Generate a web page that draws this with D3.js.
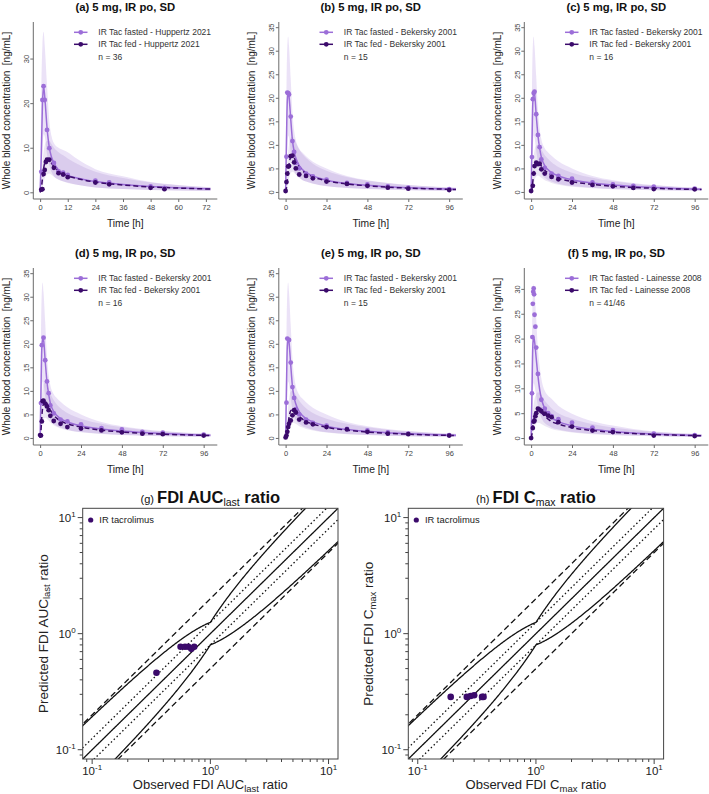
<!DOCTYPE html>
<html><head><meta charset="utf-8">
<script src="https://cdn.jsdelivr.net/npm/d3@7"></script>
<style>body{margin:0;background:#fff} svg{display:block;font-family:"Liberation Sans",Arial,sans-serif}</style>
</head><body><svg id="c" width="709" height="794"></svg>
<script>
// ---------------- DATA ----------------
const panelTitles = ["(a) 5 mg, IR po, SD","(b) 5 mg, IR po, SD","(c) 5 mg, IR po, SD","(d) 5 mg, IR po, SD","(e) 5 mg, IR po, SD","(f) 5 mg, IR po, SD"];
const fastedLegend = ["IR Tac fasted - Huppertz 2021","IR Tac fasted - Bekersky 2001","IR Tac fasted - Bekersky 2001","IR Tac fasted - Bekersky 2001","IR Tac fasted - Bekersky 2001","IR Tac fasted - Lainesse 2008"];
const fedLegend = ["IR Tac fed - Huppertz 2021","IR Tac fed - Bekersky 2001","IR Tac fed - Bekersky 2001","IR Tac fed - Bekersky 2001","IR Tac fed - Bekersky 2001","IR Tac fed - Lainesse 2008"];
const nLabels = ["n = 36","n = 15","n = 16","n = 16","n = 15","n = 41/46"];
const xTicksA = [0,12,24,36,48,60,72];
const xTicks = [0,24,48,72,96];
const yTicksA = [0,10,20,30];
const yTicks = [0,5,10,15,20,25,30,35];
const yTicksF = [0,5,10,15,20,25,30];
const xDomainA = [-2.96,76.96];
const xDomain = [-4,104];
const yDomainA = [-1.5,38.2];
const yDomain = [-1.5,36.1];
const yDomainF = [-1.4,34.2];

const simTimeA = [0,0.5,1,1.5,2,3,4,5,6,8,10,12,16,24,36,48,60,74];
const simTime  = [0,0.5,1,1.5,2,3,4,5,6,8,10,12,16,24,36,48,60,72,84,100];

const simFastedA   = [0,8,19.5,23.8,21.5,14.5,10.0,7.8,6.6,5.0,4.3,3.8,3.2,2.4,1.75,1.3,1.0,0.75];
const simFastedLoA = [0,2,9,13,12.5,8.5,6.0,4.5,3.6,2.9,2.5,2.2,1.7,1.1,0.75,0.5,0.38,0.28];
const simFastedHiA = [0,22,33,36,33,24,16,12.5,11.0,10.0,9.5,9.0,7.5,5.2,3.6,2.3,1.65,1.15];
const simFedA      = [0,0.8,3.0,5.2,6.6,7.4,7.3,6.5,5.8,4.8,4.2,3.7,3.1,2.3,1.65,1.2,0.95,0.72];
const simFedLoA    = [0,0.2,1.0,2.2,3.2,4.0,4.2,3.9,3.5,2.8,2.4,2.1,1.7,1.1,0.75,0.52,0.4,0.3];
const simFedHiA    = [0,2.5,6.5,9.0,10.5,11.5,11.5,10.8,10.0,9.0,8.3,7.6,6.4,4.6,3.2,2.2,1.6,1.12];

const simFastedB   = [0,11,19.5,21.3,20.3,15.5,11.0,8.6,7.2,5.6,4.7,4.1,3.4,2.5,1.8,1.4,1.1,0.9,0.72,0.55];
const simFastedLoB = [0,3,9,12,11.5,8.5,6.0,4.6,3.8,3.0,2.5,2.2,1.75,1.2,0.85,0.62,0.48,0.38,0.3,0.22];
const simFastedHiB = [0,22,31,33,31,24,17,13,11,9.2,8.3,7.6,6.4,5.0,3.4,2.5,1.9,1.45,1.15,0.85];
const simFedB      = [0,0.8,2.6,4.4,5.8,7.4,7.6,7.2,6.5,5.3,4.5,3.9,3.2,2.4,1.7,1.3,1.0,0.82,0.68,0.52];
const simFedLoB    = [0,0.2,1.0,2.0,2.9,4.0,4.3,4.1,3.7,3.0,2.5,2.2,1.8,1.25,0.85,0.63,0.5,0.4,0.32,0.25];
const simFedHiB    = [0,2.5,6.0,8.5,10.0,11.5,11.7,11.2,10.5,9.0,8.0,7.2,6.0,4.5,3.2,2.4,1.9,1.5,1.2,0.95];

const simFastedC   = [0,10,19.0,21.0,20.8,16.3,12.0,9.3,7.4,5.6,4.7,4.1,3.4,2.6,1.9,1.45,1.15,0.92,0.75,0.56];
const simFastedLoC = [0,3,9,12,11.5,8.8,6.4,4.9,3.9,3.0,2.5,2.2,1.75,1.25,0.88,0.64,0.5,0.4,0.31,0.23];
const simFastedHiC = [0,22,31,33,31,24.5,17.5,13.5,11.2,9.3,8.4,7.7,6.5,5.0,3.4,2.5,1.9,1.45,1.15,0.85];
const simFedC      = [0,0.6,2.2,3.8,5.0,6.1,6.3,6.0,5.5,4.6,4.0,3.5,2.9,2.2,1.6,1.2,0.95,0.78,0.64,0.5];
const simFedLoC    = [0,0.15,0.8,1.7,2.5,3.3,3.5,3.3,3.0,2.5,2.2,1.9,1.55,1.1,0.8,0.58,0.45,0.37,0.3,0.23];
const simFedHiC    = [0,2.0,5.3,7.5,8.8,9.8,10.0,9.7,9.0,7.8,7.0,6.3,5.3,4.1,3.0,2.25,1.75,1.4,1.12,0.88];

const simFastedD   = [0,10,19.0,21.0,20.8,16.3,12.0,9.3,7.4,5.6,4.7,4.1,3.4,2.6,1.9,1.45,1.15,0.92,0.75,0.56];
const simFastedLoD = [0,3,9,12,11.5,8.8,6.4,4.9,3.9,3.0,2.5,2.2,1.75,1.25,0.88,0.64,0.5,0.4,0.31,0.23];
const simFastedHiD = [0,22,31,33,31,24.5,17.5,13.5,11.2,9.3,8.4,7.7,6.5,5.0,3.4,2.5,1.9,1.45,1.15,0.85];
const simFedD      = [0,1.5,4.5,6.5,7.4,7.8,7.3,6.6,5.9,4.8,4.1,3.6,3.0,2.3,1.65,1.25,0.97,0.8,0.66,0.5];
const simFedLoD    = [0,0.5,2.0,3.4,4.0,4.3,4.1,3.7,3.3,2.7,2.3,2.0,1.65,1.2,0.82,0.6,0.46,0.37,0.3,0.23];
const simFedHiD    = [0,4.0,8.5,10.5,11.5,11.8,11.2,10.3,9.4,8.0,7.0,6.3,5.3,4.1,3.0,2.25,1.75,1.4,1.12,0.88];

const simFastedE   = [0,11,19.5,21.3,20.3,15.5,11.0,8.6,7.2,5.6,4.7,4.1,3.4,2.5,1.8,1.4,1.1,0.9,0.72,0.55];
const simFastedLoE = [0,3,9,12,11.5,8.5,6.0,4.6,3.8,3.0,2.5,2.2,1.75,1.2,0.85,0.62,0.48,0.38,0.3,0.22];
const simFastedHiE = [0,22,31,33,31,24,17,13,11,9.2,8.3,7.6,6.4,5.0,3.4,2.5,1.9,1.45,1.15,0.85];
const simFedE      = [0,0.5,1.6,3.0,4.3,5.8,6.0,5.8,5.4,4.6,4.0,3.5,2.95,2.25,1.65,1.25,0.97,0.8,0.65,0.5];
const simFedLoE    = [0,0.1,0.6,1.3,2.0,3.0,3.3,3.2,3.0,2.5,2.2,1.9,1.6,1.15,0.8,0.6,0.46,0.37,0.3,0.23];
const simFedHiE    = [0,1.6,4.0,6.5,8.2,9.8,10.0,9.7,9.1,7.9,7.0,6.3,5.3,4.1,3.0,2.25,1.75,1.4,1.12,0.88];

const simFastedF   = [0,9,18.5,20.3,19.5,16.0,12.5,9.8,8.0,5.9,4.8,4.1,3.3,2.45,1.75,1.3,1.0,0.82,0.66,0.5];
const simFastedLoF = [0,2.5,8.5,11,10.5,8.5,6.5,5.0,4.1,3.0,2.5,2.1,1.7,1.2,0.85,0.64,0.5,0.4,0.32,0.25];
const simFastedHiF = [0,20,29,31,29.5,24,18,14.5,12,9.5,8.5,7.9,6.5,4.9,3.4,2.5,1.8,1.3,1.0,0.7];
const simFedF      = [0,0.8,2.3,3.5,4.3,5.2,5.5,5.4,5.1,4.4,3.8,3.3,2.8,2.1,1.5,1.15,0.9,0.72,0.6,0.45];
const simFedLoF    = [0,0.2,0.9,1.6,2.2,2.9,3.1,3.0,2.8,2.4,2.1,1.8,1.5,1.1,0.75,0.56,0.44,0.35,0.28,0.21];
const simFedHiF    = [0,2.2,5.0,6.8,7.8,8.8,9.2,9.0,8.6,7.5,6.7,6.0,5.0,3.9,2.8,2.1,1.6,1.25,1.0,0.78];

// observed [time h, concentration ng/mL]
const obsFastedA = [[0.5,4.6],[1,20.7],[1.5,23.8],[2,20.7],[3,14.0],[4,9.9],[6,6.6],[8,4.7],[10,4.4],[12,3.9],[24,2.6],[30,2.2],[48,1.3],[54,1.0]];
const obsFedA    = [[0.5,0.6],[1,0.7],[1.5,4.1],[2,5.0],[2.5,6.8],[3,7.3],[4,7.3],[6,5.5],[8,4.3],[10,4.0],[12,3.4],[24,2.2],[30,1.8],[48,1.0],[54,0.7]];
const obsFastedB = [[0.5,7.5],[1,21.1],[1.5,21.0],[2,20.7],[3,16.0],[4,10.8],[5,8.5],[6,6.2],[8,5.0],[12,3.9],[16,3.3],[24,2.6],[36,1.9],[48,1.6],[60,1.2],[72,0.9],[96,0.6]];
const obsFedB    = [[0,0.2],[0.5,2.1],[1,3.9],[1.5,5.4],[2,5.5],[3,7.6],[4,7.7],[5,6.3],[6,5.0],[8,3.7],[12,3.4],[16,2.9],[24,2.2],[36,1.7],[48,1.3],[60,0.9],[72,0.7],[96,0.4]];
const obsFastedC = [[0.5,7.4],[1,19.7],[1.5,21.0],[2,21.3],[3,16.5],[4,12.1],[5,9.5],[6,6.9],[8,5.1],[12,3.9],[16,3.4],[24,2.8],[36,2.0],[48,1.6],[60,1.3],[72,1.1],[96,0.7]];
const obsFedC    = [[0,0.2],[1,1.3],[1.5,3.9],[2,5.5],[3,6.2],[4,5.9],[5,6.0],[6,4.8],[8,3.9],[12,3.2],[16,2.7],[24,2.0],[36,1.5],[48,1.2],[60,0.85],[72,0.6],[96,0.55]];
const obsFastedD = [[0.5,7.4],[1,19.7],[2,21.3],[3,16.5],[4,12.0],[5,9.5],[6,6.9],[8,5.2],[12,3.9],[16,3.5],[24,2.9],[36,2.1],[48,1.8],[60,1.3],[72,1.1],[96,0.7]];
const obsFedD    = [[0,0.6],[0.5,0.5],[1,3.5],[1.5,7.8],[2,7.9],[3,7.3],[4,6.7],[5,5.9],[6,4.7],[8,3.6],[12,3.0],[16,2.3],[24,2.0],[36,1.6],[48,1.2],[60,0.9],[72,0.8],[96,0.5]];
const obsFastedE = [[0.5,7.5],[1,21.1],[2,20.8],[3,16.0],[4,10.8],[5,8.5],[6,6.1],[8,5.0],[12,3.9],[16,3.2],[24,2.6],[36,1.9],[48,1.6],[60,1.2],[72,0.9],[96,0.6]];
const obsFedE    = [[0,0.1],[0.5,0.5],[1,1.3],[1.5,2.3],[2,3.0],[3,3.7],[4,4.8],[5,5.9],[6,5.4],[8,3.9],[12,3.3],[16,2.9],[24,2.3],[36,1.8],[48,1.3],[60,0.9],[72,0.8],[96,0.5]];
const obsFastedF = [[0.5,9.0],[0.75,20.3],[1,27.0],[1.25,29.4],[1.5,30.1],[1.75,28.9],[2,24.8],[2.5,22.4],[3,18.2],[4,12.9],[6,7.7],[8,5.9],[10,5.0],[12,4.4],[16,3.8],[24,3.1],[36,2.1],[48,1.6],[72,0.9],[96,0.6]];
const obsFedF    = [[0,0.0],[1,2.0],[1.5,3.3],[2,3.5],[2.5,4.4],[3,5.0],[4,5.9],[5,5.7],[6,5.4],[8,4.9],[10,4.5],[12,4.2],[16,3.2],[24,2.3],[36,1.5],[48,1.2],[72,0.5],[96,0.4]];

// FDI ratios (fed/fasted)
const fdiAucObserved  = [0.35,0.56,0.61,0.65,0.69,0.73];
const fdiAucPredicted = [0.46,0.77,0.77,0.77,0.74,0.77];
const fdiCmaxObserved  = [0.19,0.26,0.28,0.30,0.35,0.36];
const fdiCmaxPredicted = [0.285,0.285,0.29,0.295,0.285,0.285];
const guestDelta = 1.25;
const logTickLabels = ["-1","0","1"];

// ---------------- STYLE ----------------
const colFasted = "#9C6ED8";
const colFed = "#3B0A6B";
const svg = d3.select("#c");
const font = '"Liberation Sans",Arial,sans-serif';

const panels = [
  {t:simTimeA, fm:simFastedA, fl:simFastedLoA, fh:simFastedHiA, dm:simFedA, dl:simFedLoA, dh:simFedHiA, of:obsFastedA, od:obsFedA, xd:xDomainA, yd:yDomainA, xt:xTicksA, yt:yTicksA},
  {t:simTime, fm:simFastedB, fl:simFastedLoB, fh:simFastedHiB, dm:simFedB, dl:simFedLoB, dh:simFedHiB, of:obsFastedB, od:obsFedB, xd:xDomain, yd:yDomain, xt:xTicks, yt:yTicks},
  {t:simTime, fm:simFastedC, fl:simFastedLoC, fh:simFastedHiC, dm:simFedC, dl:simFedLoC, dh:simFedHiC, of:obsFastedC, od:obsFedC, xd:xDomain, yd:yDomain, xt:xTicks, yt:yTicks},
  {t:simTime, fm:simFastedD, fl:simFastedLoD, fh:simFastedHiD, dm:simFedD, dl:simFedLoD, dh:simFedHiD, of:obsFastedD, od:obsFedD, xd:xDomain, yd:yDomain, xt:xTicks, yt:yTicks},
  {t:simTime, fm:simFastedE, fl:simFastedLoE, fh:simFastedHiE, dm:simFedE, dl:simFedLoE, dh:simFedHiE, of:obsFastedE, od:obsFedE, xd:xDomain, yd:yDomain, xt:xTicks, yt:yTicks},
  {t:simTime, fm:simFastedF, fl:simFastedLoF, fh:simFastedHiF, dm:simFedF, dl:simFedLoF, dh:simFedHiF, of:obsFastedF, od:obsFedF, xd:xDomain, yd:yDomainF, xt:xTicks, yt:yTicksF}
];

panels.forEach((p,i)=>{
  const col=i%3, row=Math.floor(i/3);
  const x0=33.3+245.5*col, x1=x0+184, yTop=22+246*row, yBot=199+246*row;
  const x=d3.scaleLinear().domain(p.xd).range([x0,x1]);
  const y=d3.scaleLinear().domain(p.yd).range([yBot,yTop]);
  const g=svg.append("g");
  const cid="clip"+i;
  g.append("clipPath").attr("id",cid).append("rect").attr("x",x0).attr("y",yTop).attr("width",x1-x0).attr("height",yBot-yTop);
  const pg=g.append("g").attr("clip-path",`url(#${cid})`);
  const idx=d3.range(p.t.length);
  const area=(lo,hi)=>d3.area().x(k=>x(p.t[k])).y0(k=>y(lo[k])).y1(k=>y(hi[k])).curve(d3.curveMonotoneX);
  const line=(m)=>d3.line().x(k=>x(p.t[k])).y(k=>y(m[k])).curve(d3.curveMonotoneX);
  pg.append("path").attr("d",area(p.fl,p.fh)(idx)).attr("fill",colFasted).attr("fill-opacity",0.2);
  pg.append("path").attr("d",area(p.dl,p.dh)(idx)).attr("fill","#6A3FA8").attr("fill-opacity",0.13);
  pg.append("path").attr("d",line(p.fm)(idx)).attr("fill","none").attr("stroke",colFasted).attr("stroke-width",1.5);
  pg.append("path").attr("d",line(p.dm)(idx)).attr("fill","none").attr("stroke",colFed).attr("stroke-width",1.5).attr("stroke-dasharray","5,3");
  pg.selectAll(".of").data(p.of).join("circle").attr("cx",d=>x(d[0])).attr("cy",d=>y(d[1])).attr("r",2.4).attr("fill",colFasted);
  pg.selectAll(".od").data(p.od).join("circle").attr("cx",d=>x(d[0])).attr("cy",d=>y(d[1])).attr("r",2.4).attr("fill",colFed);

  // axes
  const ax=g.append("g").attr("transform",`translate(0,${yBot})`)
    .call(d3.axisBottom(x).tickValues(p.xt).tickSize(3).tickSizeOuter(0).tickPadding(2.5));
  const ay=g.append("g").attr("transform",`translate(${x0},0)`)
    .call(d3.axisLeft(y).tickValues(p.yt).tickSize(3).tickSizeOuter(0));
  [ax,ay].forEach(a=>{a.select(".domain").attr("stroke","#6b6b6b");
    a.selectAll(".tick line").attr("stroke","#6b6b6b");
    a.selectAll("text").attr("fill","#444").attr("font-size",7.5).attr("font-family",font);});
  ax.select(".domain").attr("d",`M${x0},0H${x1}`);
  ay.select(".domain").attr("d",`M0,${yTop}V${yBot}`);
  ay.selectAll(".tick text").attr("transform","rotate(-90)").attr("x",0).attr("y",-4.5).attr("dy",0).attr("text-anchor","middle");

  // labels
  g.append("text").attr("x",(x0+x1)/2).attr("y",11+246*row).attr("text-anchor","middle")
    .attr("font-weight","bold").attr("font-size",11.3).attr("fill","#111").text(panelTitles[i]);
  g.append("text").attr("x",(x0+x1)/2).attr("y",226.5+246*row).attr("text-anchor","middle")
    .attr("font-size",10.3).attr("fill","#222").text("Time [h]");
  g.append("text").attr("transform",`translate(${x0-27},${(yTop+yBot)/2}) rotate(-90)`).attr("text-anchor","middle")
    .attr("dy","0.35em").attr("font-size",10).attr("fill","#222").style("white-space","pre").text("Whole blood concentration  [ng/mL]");

  // legend
  const lx=x0+40.7, tx=x0+65;
  [[fastedLegend[i],colFasted,yTop+10.3],[fedLegend[i],colFed,yTop+22.3]].forEach(([lab,c,yy])=>{
    g.append("line").attr("x1",lx).attr("x2",lx+13.5).attr("y1",yy).attr("y2",yy).attr("stroke",c).attr("stroke-width",1.5);
    g.append("circle").attr("cx",lx+6.75).attr("cy",yy).attr("r",2.4).attr("fill",c);
    g.append("text").attr("x",tx).attr("y",yy+3).attr("font-size",8.5).attr("fill","#333").text(lab);
  });
  g.append("text").attr("x",tx).attr("y",yTop+37.5).attr("font-size",8.5).attr("fill","#333").text(nLabels[i]);
});

// ---------------- FDI panels ----------------
const fdiPanels = [
  {left:82.7, obs:fdiAucObserved, pred:fdiAucPredicted, tag:"(g)", main:"FDI AUC", sub:"last"},
  {left:408.3, obs:fdiCmaxObserved, pred:fdiCmaxPredicted, tag:"(h)", main:"FDI C", sub:"max"}
];
const ratioGrid = d3.range(-1.3,1.31,0.005).map(v=>Math.pow(10,v));
const guest = r => { const R = r>=1 ? r : 1/r; return (guestDelta + 2*(R-1))/R; };

fdiPanels.forEach((p,i)=>{
  const left=p.left, right=left+255.3, top=508.3, bottom=759;
  const dom=[Math.pow(10,-1.08),Math.pow(10,1.08)];
  const x=d3.scaleLog().domain(dom).range([left,right]);
  const y=d3.scaleLog().domain(dom).range([bottom,top]);
  const g=svg.append("g");
  const cid="fclip"+i;
  g.append("clipPath").attr("id",cid).append("rect").attr("x",left).attr("y",top).attr("width",right-left).attr("height",bottom-top);
  const pg=g.append("g").attr("clip-path",`url(#${cid})`);
  const ln=f=>d3.line().x(d=>x(d)).y(d=>y(f(d)))(ratioGrid);
  const styles=[
    [d=>d,"none"],[d=>d*1.25,"1.5,2.5"],[d=>d/1.25,"1.5,2.5"],
    [d=>d*2,"6,3.5"],[d=>d/2,"6,3.5"],
    [d=>d*guest(d),"none"],[d=>d/guest(d),"none"]
  ];
  styles.forEach(([f,da])=>pg.append("path").attr("d",ln(f)).attr("fill","none").attr("stroke","#111").attr("stroke-width",1.3).attr("stroke-dasharray",da));
  pg.selectAll(".pt").data(d3.range(p.obs.length)).join("circle")
    .attr("cx",k=>x(p.obs[k])).attr("cy",k=>y(p.pred[k])).attr("r",3.3).attr("fill",colFed);
  g.append("rect").attr("x",left).attr("y",top).attr("width",right-left).attr("height",bottom-top)
    .attr("fill","none").attr("stroke","#444").attr("stroke-width",1);

  const ticks=x.ticks().filter(v=>v>=dom[0]&&v<=dom[1]);
  const major=[0.1,1,10];
  ticks.forEach(v=>{
    const isM=major.some(m=>Math.abs(m-v)<1e-9);
    const L=isM?5:3;
    g.append("line").attr("x1",x(v)).attr("x2",x(v)).attr("y1",bottom).attr("y2",bottom+L).attr("stroke","#444");
    g.append("line").attr("x1",left).attr("x2",left-L).attr("y1",y(v)).attr("y2",y(v)).attr("stroke","#444");
  });
  major.forEach((v,k)=>{
    const tx=g.append("text").attr("x",x(v)).attr("y",bottom+15.5).attr("text-anchor","middle").attr("font-size",11.5).attr("fill","#222");
    tx.append("tspan").text("10");
    tx.append("tspan").attr("dy",-4.5).attr("font-size",8).text(logTickLabels[k]);
    const ty=g.append("text").attr("x",left-7).attr("y",y(v)+4).attr("text-anchor","end").attr("font-size",11.5).attr("fill","#222");
    ty.append("tspan").text("10");
    ty.append("tspan").attr("dy",-4.5).attr("font-size",8).text(logTickLabels[k]);
  });

  // axis titles
  const xt=g.append("text").attr("x",(left+right)/2).attr("y",789).attr("text-anchor","middle").attr("font-size",13).attr("fill","#222");
  xt.append("tspan").text("Observed "+p.main);
  xt.append("tspan").attr("dy",2.5).attr("font-size",9.5).text(p.sub);
  xt.append("tspan").attr("dy",-2.5).text(" ratio");
  const yt=g.append("text").attr("transform",`translate(${left-35},${(top+bottom)/2}) rotate(-90)`).attr("text-anchor","middle").attr("font-size",13.5).attr("fill","#222");
  yt.append("tspan").text("Predicted "+p.main);
  yt.append("tspan").attr("dy",2.5).attr("font-size",9.5).text(p.sub);
  yt.append("tspan").attr("dy",-2.5).text(" ratio");

  // title
  const tt=g.append("text").attr("x",(left+right)/2).attr("y",503).attr("text-anchor","middle").attr("fill","#111");
  tt.append("tspan").attr("font-size",11).text(p.tag+" ");
  tt.append("tspan").attr("font-size",16.5).attr("font-weight","bold").text(p.main);
  tt.append("tspan").attr("font-size",10.5).attr("dy",2.5).text(p.sub);
  tt.append("tspan").attr("font-size",16.5).attr("font-weight","bold").attr("dy",-2.5).text(" ratio");

  // legend
  g.append("circle").attr("cx",left+8).attr("cy",top+11.7).attr("r",2.6).attr("fill",colFed);
  g.append("text").attr("x",left+16.6).attr("y",top+15).attr("font-size",9.4).attr("fill","#222").text("IR tacrolimus");
});
</script></body></html>
